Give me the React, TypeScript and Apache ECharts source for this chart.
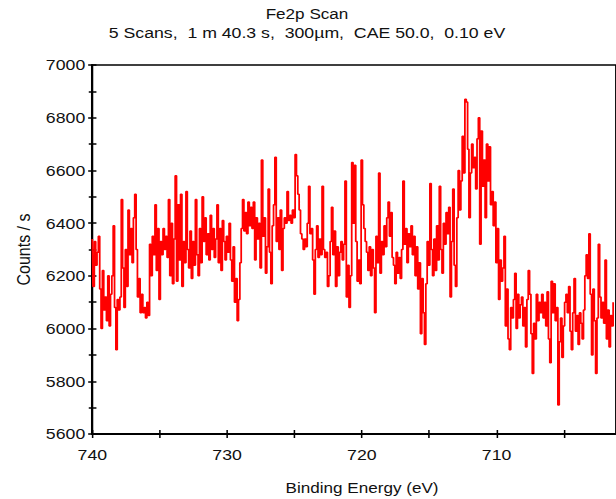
import React, { useEffect, useRef } from "react";
import * as echarts from "echarts";

const TITLE = "Fe2p Scan";
const SUBTITLE = "5 Scans,  1 m 40.3 s,  300µm,  CAE 50.0,  0.10 eV";
const X_NAME = "Binding Energy (eV)";
const Y_NAME = "Counts / s";

const START_EV = 740.0;
const STEP_EV = 0.1;

const counts: number[] = [
  6340, 6160, 6330, 6240, 6290, 6350, 6150, 6000, 6220, 6070,
  6120, 6030, 6200, 6010, 6130, 6200, 6390, 6080, 5920, 6110,
  6070, 6120, 6490, 6230, 6080, 6300, 6160, 6450, 6280, 6380,
  6250, 6420, 6510, 6300, 6120, 6190, 6060, 6130, 6060, 6080,
  6040, 6100, 6050, 6320, 6200, 6350, 6280, 6470, 6220, 6380,
  6110, 6330, 6280, 6380, 6300, 6350, 6270, 6490, 6200, 6400,
  6170, 6340, 6580, 6180, 6470, 6260, 6510, 6160, 6330, 6250,
  6520, 6300, 6230, 6370, 6190, 6330, 6240, 6490, 6280, 6200,
  6380, 6250, 6500, 6330, 6420, 6280, 6360, 6260, 6430, 6300,
  6380, 6270, 6340, 6470, 6250, 6380, 6220, 6410, 6330, 6260,
  6350, 6290, 6400, 6260, 6180, 6310, 6100, 6190, 6030, 6110,
  6250, 6380, 6490, 6370, 6440, 6360, 6480, 6390, 6460, 6380,
  6480, 6260, 6420, 6340, 6400, 6230, 6640, 6350, 6420, 6210,
  6310, 6530, 6290, 6170, 6390, 6470, 6650, 6330, 6420, 6300,
  6450, 6220, 6380, 6420, 6400, 6520, 6410, 6430, 6400, 6450,
  6420, 6660, 6580, 6510, 6450, 6360, 6340, 6300, 6340, 6310,
  6400, 6540, 6360, 6380, 6260, 6130, 6300, 6390, 6270, 6340,
  6280, 6540, 6300, 6270, 6290, 6160, 6200, 6330, 6460, 6280,
  6370, 6160, 6310, 6200, 6290, 6330, 6260, 6320, 6560, 6120,
  6240, 6080, 6200, 6630, 6400, 6620, 6330, 6180, 6260, 6170,
  6640, 6470, 6380, 6330, 6290, 6220, 6310, 6200, 6300, 6230,
  6060, 6350, 6250, 6590, 6210, 6330, 6280, 6390, 6310, 6420,
  6480, 6350, 6440, 6270, 6240, 6170, 6290, 6210, 6270, 6190,
  6300, 6560, 6320, 6380, 6250, 6360, 6310, 6390, 6280, 6350,
  6200, 6310, 6150, 6250, 5980, 6190, 6060, 5940, 6170, 6330,
  6240, 6550, 6300, 6200, 6340, 6220, 6390, 6260, 6540, 6300,
  6210, 6400, 6320, 6440, 6360, 6460, 6120, 6330, 6530, 6240,
  6160, 6420, 6600, 6450, 6560, 6730, 6590, 6870, 6860, 6680,
  6420, 6590, 6700, 6610, 6650, 6530, 6720, 6800, 6320, 6750,
  6540, 6640, 6420, 6700, 6560, 6690, 6470, 6520, 6390, 6480,
  6250, 6380, 6110, 6260, 6180, 6230, 6350, 6010, 6150, 5960,
  5920, 6080, 6040, 6110, 6210, 6000, 6130, 6040, 6090, 6120,
  6010, 6080, 5930, 6110, 6220, 6130, 5980, 5830, 6020, 5960,
  6130, 6030, 6100, 6060, 6130, 6040, 6100, 6010, 6140, 5960,
  5870, 6180, 6060, 6170, 6030, 6080, 5710, 5950, 6040, 5890,
  6010, 6100, 6130, 6060, 6160, 5990, 5920, 6060, 6190, 5990,
  6050, 5940, 6060, 6020, 5960, 6070, 6200, 6280, 6190, 6360,
  6130, 5900, 6150, 6030, 5830, 6040, 6320, 6120, 6040, 6100,
  6020, 6260, 5960, 6070, 5930, 6050, 6010, 6100,
];

const X_MAX = 740;
const X_MIN = 701.14;
const xTickValues = [740, 735, 730, 725, 720, 715, 710, 705];
const xLabelValues = [740, 730, 720, 710];
const Y_MIN = 5600;
const Y_MAX = 7000;
const Y_STEP = 200;

const FONT = "'Liberation Sans', Arial, sans-serif";
// the original picture is stretched horizontally
const STRETCH = 1.18;
const PAGE_W = 616;
const PAGE_H = 499;
const INNER_W = Math.round(PAGE_W / STRETCH);

export default function App() {
  const ref = useRef<HTMLDivElement>(null);

  useEffect(() => {
    if (!ref.current) return;
    const chart = echarts.init(ref.current, null, { renderer: "svg" });
    const data = counts.map((c, i) => [
      Math.round((START_EV - i * STEP_EV) * 10) / 10,
      c,
    ]);

    const xBase = {
      type: "value",
      inverse: true,
      min: X_MIN,
      max: X_MAX,
      position: "bottom",
      splitLine: { show: false },
    };
    const yBase = {
      type: "value",
      min: Y_MIN,
      max: Y_MAX,
      interval: Y_STEP,
      position: "left",
      splitLine: { show: false },
    };

    chart.setOption({
      animation: false,
      grid: {
        left: 92.3 / STRETCH,
        right: INNER_W - 619.1 / STRETCH,
        top: 65,
        bottom: 65,
        show: true,
        borderColor: "#000",
        borderWidth: 1.5,
        backgroundColor: "transparent",
        containLabel: false,
      },
      xAxis: [
        {
          ...xBase,
          axisLine: { show: true, onZero: false, lineStyle: { color: "#000", width: 2 } },
          axisTick: {
            show: true,
            inside: false,
            length: 4,
            customValues: xTickValues,
            lineStyle: { color: "#000", width: 1.3 },
          },
          axisLabel: {
            show: true,
            customValues: xLabelValues,
            margin: 13,
            fontSize: 15,
            color: "#111",
            fontFamily: FONT,
            formatter: (v: number) => String(v),
          },
        },
        {
          ...xBase,
          axisLine: { show: false },
          axisTick: {
            show: true,
            inside: true,
            length: 4,
            customValues: xTickValues,
            lineStyle: { color: "#000", width: 1.3 },
          },
          axisLabel: { show: false },
        },
      ],
      yAxis: [
        {
          ...yBase,
          axisLine: { show: true, onZero: false, lineStyle: { color: "#000", width: 1.8 } },
          axisTick: { show: true, inside: false, length: 3.5, lineStyle: { color: "#000", width: 1.5 } },
          minorTick: { show: true, splitNumber: 2, length: 3, lineStyle: { color: "#000", width: 1.5 } },
          axisLabel: {
            show: true,
            margin: 6,
            fontSize: 15,
            color: "#111",
            fontFamily: FONT,
            formatter: (v: number) => String(v),
          },
          name: Y_NAME,
          nameLocation: "middle",
          nameGap: 50,
          nameTextStyle: { fontSize: 16, color: "#111", fontFamily: FONT },
        },
        {
          ...yBase,
          axisLine: { show: false },
          axisTick: { show: true, inside: true, length: 3.5, lineStyle: { color: "#000", width: 1.5 } },
          minorTick: { show: true, splitNumber: 2, length: 3.5, lineStyle: { color: "#000", width: 1.5 } },
          axisLabel: { show: false },
        },
      ],
      series: [
        {
          type: "line",
          data,
          xAxisIndex: 0,
          yAxisIndex: 0,
          step: "middle",
          symbol: "none",
          showSymbol: false,
          lineStyle: { color: "#f00", width: 1.5 },
          silent: true,
        },
      ],
      graphic: [
        {
          type: "text",
          x: 307 / STRETCH,
          y: 14,
          style: {
            text: TITLE,
            fontSize: 14.5,
            fontFamily: FONT,
            fill: "#111",
            textAlign: "center",
            textVerticalAlign: "middle",
          },
        },
        {
          type: "text",
          x: 307 / STRETCH,
          y: 33,
          style: {
            text: SUBTITLE,
            fontSize: 15,
            fontFamily: FONT,
            fill: "#111",
            textAlign: "center",
            textVerticalAlign: "middle",
          },
        },
        {
          type: "text",
          x: 362 / STRETCH,
          y: 488,
          style: {
            text: X_NAME,
            fontSize: 14.5,
            fontFamily: FONT,
            fill: "#111",
            textAlign: "center",
            textVerticalAlign: "middle",
          },
        },
      ],
    });

    return () => chart.dispose();
  }, []);

  return (
    <div
      style={{
        position: "fixed",
        left: 0,
        top: 0,
        width: PAGE_W,
        height: PAGE_H,
        overflow: "hidden",
        background: "#fff",
      }}
    >
      <div
        ref={ref}
        style={{
          width: INNER_W,
          height: PAGE_H,
          transform: `scaleX(${STRETCH})`,
          transformOrigin: "0 0",
        }}
      />
    </div>
  );
}
